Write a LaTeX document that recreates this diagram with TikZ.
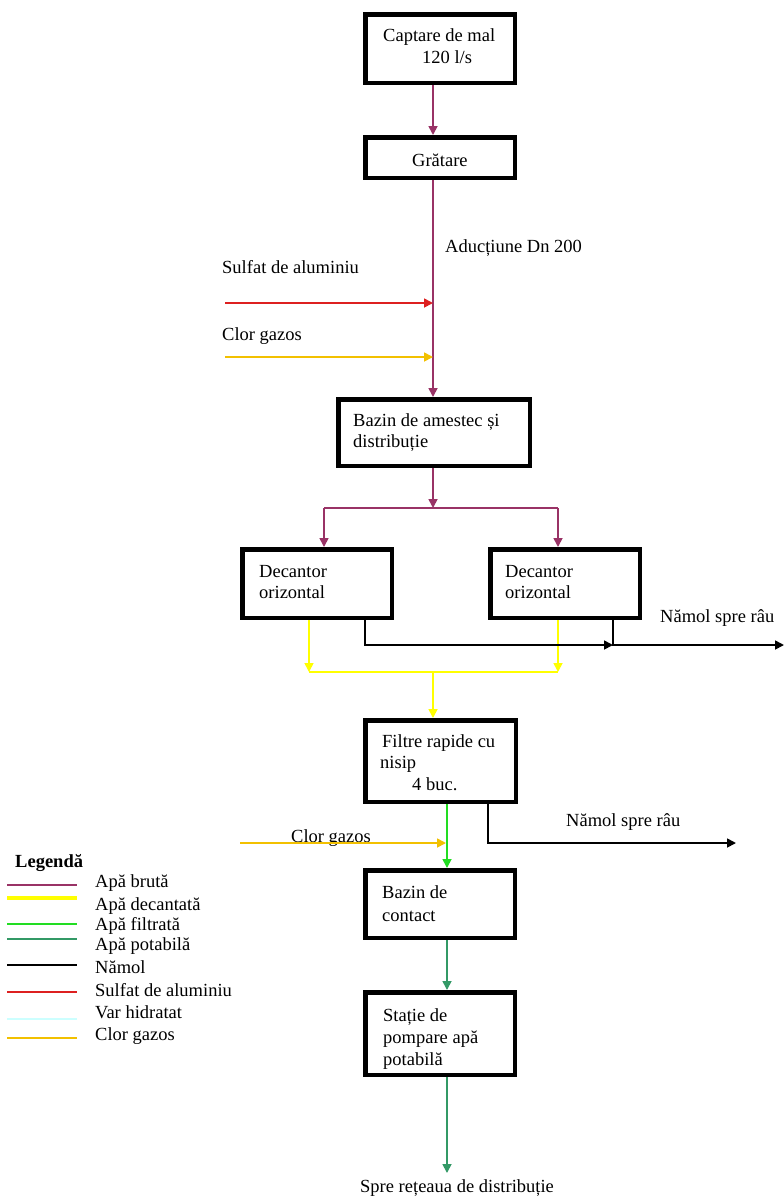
\documentclass[tikz,border=0pt]{standalone}
\usepackage{fontspec}
\setmainfont{Liberation Serif}
\usetikzlibrary{arrows.meta}

% stream colours
\definecolor{rawwater}{HTML}{993366}
\definecolor{settled}{HTML}{FFFF00}
\definecolor{filtered}{HTML}{22DD22}
\definecolor{potable}{HTML}{339966}
\definecolor{alum}{HTML}{DD2020}
\definecolor{limewater}{HTML}{CCFFFF}
\definecolor{chlorine}{HTML}{F2C000}

\begin{document}
\begin{tikzpicture}[x=1pt,y=-1pt,
  box/.style={draw=black, line width=4.5pt, inner sep=0pt},
  txt/.style={anchor=base west, inner sep=0pt, font=\fontsize{18.5}{22}\selectfont},
  pipe/.style={line width=1.7pt},
  flow/.style={pipe, -{Triangle[length=9pt,width=9pt]}},
  keyline/.style={line width=1.6pt}
]
\fill[white] (0,0) rectangle (784,1197);
\useasboundingbox (0,0) rectangle (784,1197);

% ---------- process units ----------
\node[box, minimum width=149.5pt, minimum height=68.5pt] (capt) at (440,48.5) {};
\node[box, minimum width=149.5pt, minimum height=40.5pt] (grat) at (440,157.5) {};
\node[box, minimum width=191.5pt, minimum height=66.5pt] (mix) at (434,432.5) {};
\node[box, minimum width=149.5pt, minimum height=68.5pt] (decL) at (317,583.5) {};
\node[box, minimum width=149.5pt, minimum height=68.5pt] (decR) at (565,583.5) {};
\node[box, minimum width=150.5pt, minimum height=81.5pt] (filt) at (440.5,761) {};
\node[box, minimum width=149.5pt, minimum height=67.5pt] (cont) at (440,904) {};
\node[box, minimum width=149.5pt, minimum height=82.5pt] (pump) at (440,1033.5) {};

% ---------- unit labels ----------
\node[txt] (capt1) at (383,41) {Captare de mal};
\node[txt] (capt2) at (422,63) {120 l/s};
\node[txt] (grat1) at (412,166) {Grătare};
\node[txt] (mix1) at (353,426) {Bazin de amestec și};
\node[txt] (mix2) at (353,447) {distribuție};
\node[txt] (decL1) at (259,577) {Decantor};
\node[txt] (decL2) at (259,598) {orizontal};
\node[txt] (decR1) at (505,577) {Decantor};
\node[txt] (decR2) at (505,598) {orizontal};
\node[txt] (filt1) at (382,747) {Filtre rapide cu};
\node[txt] (filt2) at (380,768) {nisip};
\node[txt] (filt3) at (412,790) {4 buc.};
\node[txt] (cont1) at (382,898) {Bazin de};
\node[txt] (cont2) at (382,921) {contact};
\node[txt] (pump1) at (383,1021) {Stație de};
\node[txt] (pump2) at (383,1043) {pompare apă};
\node[txt] (pump3) at (383,1065) {potabilă};

% ---------- stream labels ----------
\node[txt] (lad) at (445,252) {Aducțiune Dn 200};
\node[txt] (lal) at (222,273) {Sulfat de aluminiu};
\node[txt] (lcl) at (222,340) {Clor gazos};
\node[txt] (ln1) at (660,622) {Nămol spre râu};
\node[txt] (ln2) at (566,826) {Nămol spre râu};
\node[txt] (lcl2) at (291,842) {Clor gazos};
\node[txt] (lout) at (360,1192) {Spre rețeaua de distribuție};

% ---------- raw water ----------
\coordinate (tx) at (433,0);
\draw[flow, rawwater] (capt.south -| tx) -- (grat.north -| tx);
\draw[flow, rawwater] (grat.south -| tx) -- (mix.north -| tx);
\coordinate (split) at (433,508);
\coordinate (sl) at (324,508);
\coordinate (sr) at (558,508);
\draw[flow, rawwater] (mix.south -| tx) -- (split);
\draw[pipe, rawwater] (sl) -- (sr);
\draw[flow, rawwater] (sl) -- (decL.north -| sl);
\draw[flow, rawwater] (sr) -- (decR.north -| sr);

% ---------- reagents ----------
\coordinate (alumin) at (225,303);
\coordinate (clin) at (225,357);
\draw[flow, alum] (alumin) -- (alumin -| tx);
\draw[flow, chlorine] (clin) -- (clin -| tx);

% ---------- settled water ----------
\coordinate (yl) at (309,672);
\coordinate (yr) at (558,672);
\coordinate (ym) at (433,672);
\draw[flow, settled] (decL.south -| yl) -- (yl);
\draw[flow, settled] (decR.south -| yr) -- (yr);
\draw[pipe, settled] (yl) -- (yr);
\draw[flow, settled] (ym) -- (filt.north -| ym);

% ---------- sludge ----------
\coordinate (kl) at (365,645);
\coordinate (kr) at (613,645);
\coordinate (kend) at (784,645);
\draw[flow, black] (decL.south -| kl) |- (kr);
\draw[flow, black] (decR.south -| kr) -- (kr) -- (kend);
\coordinate (k2) at (488,843);
\coordinate (k2end) at (736,843);
\draw[flow, black] (filt.south -| k2) |- (k2end);

% ---------- filtered and potable water ----------
\coordinate (gx) at (447,0);
\draw[flow, filtered] (filt.south -| gx) -- (cont.north -| gx);
\coordinate (cl2) at (240,843);
\draw[flow, chlorine] (cl2) -- ([xshift=-1pt]cl2 -| gx);
\draw[flow, potable] (cont.south -| gx) -- (pump.north -| gx);
\coordinate (outlet) at (447,1173);
\draw[flow, potable] (pump.south -| gx) -- (outlet);

% ---------- legend ----------
\node[txt, font=\fontsize{18.5}{22}\selectfont\bfseries] (leg) at (15,867) {Legendă};
\foreach \y/\col/\w/\name in {
  885/rawwater/1.6/k1,
  898/settled/4/k2,
  924/filtered/1.6/k3,
  939/potable/1.6/k4,
  965/black/1.6/k5,
  992/alum/1.6/k6,
  1019/limewater/1.6/k7,
  1038/chlorine/1.6/k8} {
  \coordinate (\name a) at (7,\y);
  \coordinate (\name b) at (77,\y);
  \draw[\col, line width=\w pt] (\name a) -- (\name b);
}
\node[txt] (lk1) at (95,887) {Apă brută};
\node[txt] (lk2) at (95,910) {Apă decantată};
\node[txt] (lk3) at (95,930) {Apă filtrată};
\node[txt] (lk4) at (95,950) {Apă potabilă};
\node[txt] (lk5) at (95,973) {Nămol};
\node[txt] (lk6) at (95,996) {Sulfat de aluminiu};
\node[txt] (lk7) at (95,1018) {Var hidratat};
\node[txt] (lk8) at (95,1040) {Clor gazos};
\end{tikzpicture}
\end{document}
